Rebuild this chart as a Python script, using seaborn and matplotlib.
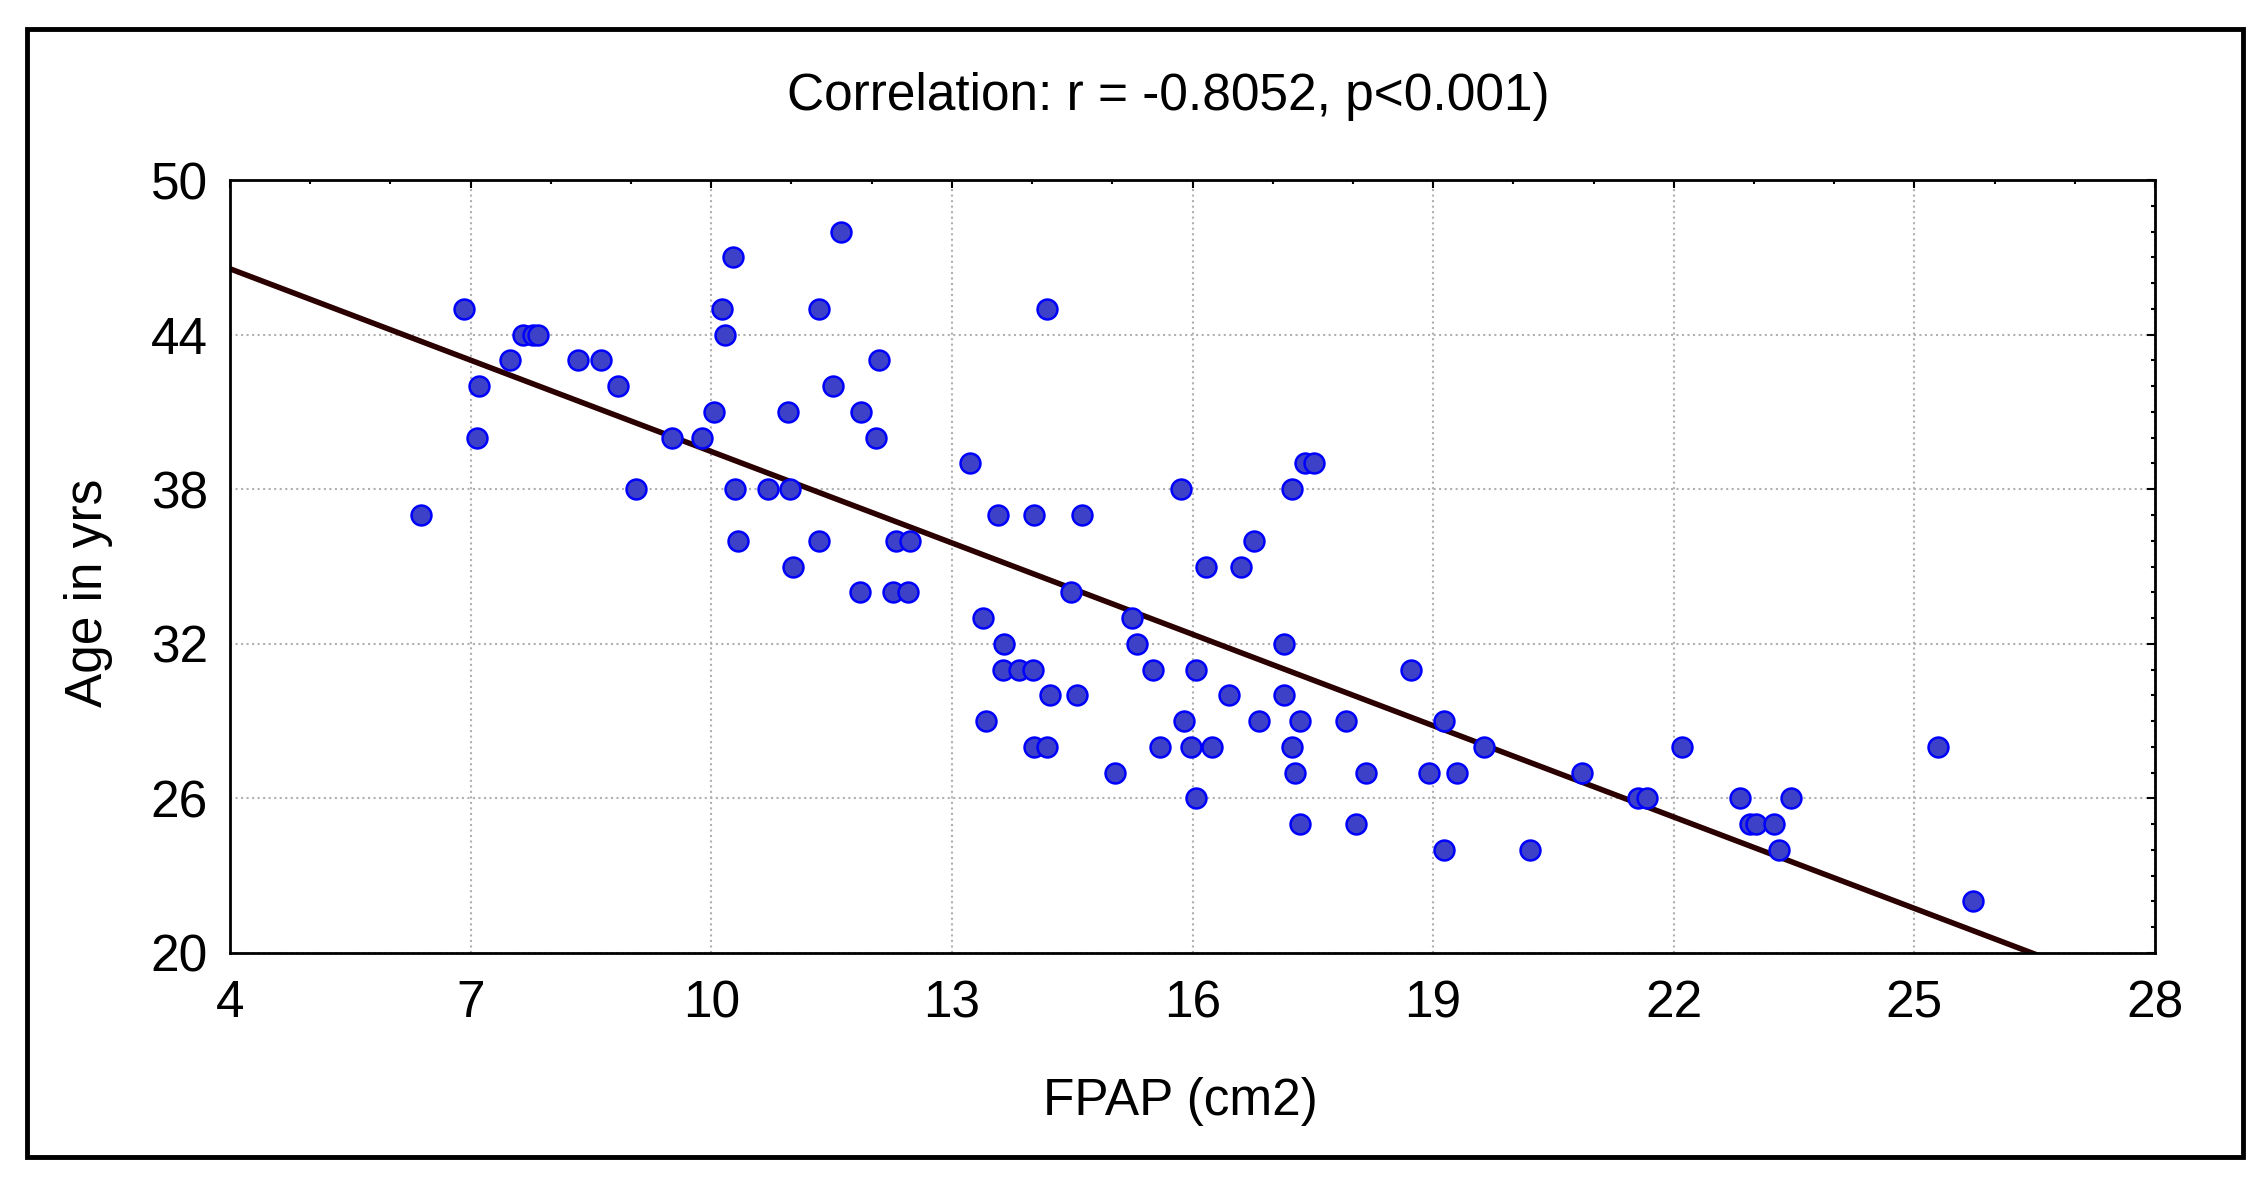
import pandas as pd
import matplotlib.pyplot as plt
import seaborn as sns
from matplotlib.patches import Rectangle

# FPAP (cm2) and age (years), grouped by age
fpap = [
    11.62,
    10.27,
    6.92, 10.14, 11.34, 14.18,
    7.65, 7.78, 7.84, 10.17,
    7.49, 8.34, 8.62, 12.09,
    7.11, 8.84, 11.52,
    10.04, 10.96, 11.87,
    7.08, 9.51, 9.88, 12.06,
    13.23, 17.40, 17.51,
    9.06, 10.30, 10.71, 10.98, 15.86, 17.24,
    6.38, 13.58, 14.02, 14.62,
    10.33, 11.34, 12.30, 12.48, 16.77,
    11.02, 16.17, 16.61,
    11.85, 12.27, 12.45, 14.49,
    13.39, 15.25,
    13.65, 15.31, 17.14,
    13.64, 13.84, 14.01, 15.51, 16.04, 18.73,
    14.22, 14.56, 16.46, 17.14,
    13.43, 15.89, 16.83, 17.34, 17.91, 19.14,
    14.02, 14.19, 15.60, 15.98, 16.24, 17.24, 19.64, 22.10, 25.30,
    15.03, 17.28, 18.16, 18.95, 19.30, 20.85,
    16.04, 21.55, 21.67, 22.83, 23.46,
    17.34, 18.04, 22.95, 23.02, 23.25,
    19.14, 20.21, 23.31,
    25.73,
]
age = (
    [48] * 1 + [47] * 1 + [45] * 4 + [44] * 4 + [43] * 4 + [42] * 3 + [41] * 3
    + [40] * 4 + [39] * 3 + [38] * 6 + [37] * 4 + [36] * 5 + [35] * 3 + [34] * 4
    + [33] * 2 + [32] * 3 + [31] * 6 + [30] * 4 + [29] * 6 + [28] * 9 + [27] * 6
    + [26] * 5 + [25] * 5 + [24] * 3 + [22] * 1
)

x_ticks = [4, 7, 10, 13, 16, 19, 22, 25, 28]
y_ticks = [20, 26, 32, 38, 44, 50]
x_minor = list(range(4, 29))
y_minor = list(range(20, 51))

title = "Correlation: r = -0.8052, p<0.001)"
x_label = "FPAP (cm2)"
y_label = "Age in yrs"

df = pd.DataFrame({"FPAP": fpap, "Age": age})

sns.set_style("white")
plt.rcParams["font.family"] = ["Liberation Sans", "DejaVu Sans"]
plt.rcParams["text.color"] = "black"
plt.rcParams["axes.labelcolor"] = "black"
plt.rcParams["xtick.color"] = "black"
plt.rcParams["ytick.color"] = "black"

W, H = 2266, 1183
fig = plt.figure(figsize=(W / 100, H / 100), dpi=100)
ax = fig.add_axes([230 / W, 1 - 953 / H, (2155 - 230) / W, (953 - 180) / H])

ax.set_xlim(4, 28)
ax.set_ylim(20, 50)

# regression line across the whole axis (statistica style)
sns.regplot(data=df, x="FPAP", y="Age", scatter=False, ci=None, truncate=False,
            color="#2b0000", line_kws={"linewidth": 4.0, "zorder": 2}, ax=ax)
sns.scatterplot(data=df, x="FPAP", y="Age", s=205, color="#3d41c8",
                edgecolor="#0000ff", linewidth=1.8, zorder=3, ax=ax)

ax.set_xlim(4, 28)
ax.set_ylim(20, 50)
ax.set_xticks(x_ticks)
ax.set_yticks(y_ticks)
ax.set_xticks(x_minor, minor=True)
ax.set_yticks(y_minor, minor=True)

ax.grid(True, which="major", linestyle=":", color="#b0b0b0", linewidth=1.5)
ax.set_axisbelow(True)
for sp in ax.spines.values():
    sp.set_color("black")
    sp.set_linewidth(2.0)
    sp.set_visible(True)

ax.tick_params(which="both", direction="in", top=True, right=True, color="black")
ax.tick_params(which="major", length=5.5, width=1.5, labelsize=37)
ax.tick_params(which="minor", length=3, width=1.5)
ax.tick_params(axis="x", which="major", pad=19)
ax.tick_params(axis="y", which="major", pad=16)

ax.set_xlabel(x_label, fontsize=37)
ax.set_ylabel(y_label, fontsize=37)
ax.xaxis.set_label_coords((1180 - 230) / 1925, -(1077 - 953) / 773)
ax.yaxis.set_label_coords(-(230 - 113) / 1925, (953 - 593) / 773)

fig.text(1168 / W, 1 - 110 / H, title, ha="center", va="baseline", fontsize=37)

# outer frame around the whole picture
fig.patches.append(Rectangle((27 / W, 1 - 1157 / H), (2243 - 27) / W, (1157 - 29) / H,
                             transform=fig.transFigure, fill=False,
                             edgecolor="black", linewidth=3.5))

fig.savefig("out.png", dpi=100, facecolor="white")
